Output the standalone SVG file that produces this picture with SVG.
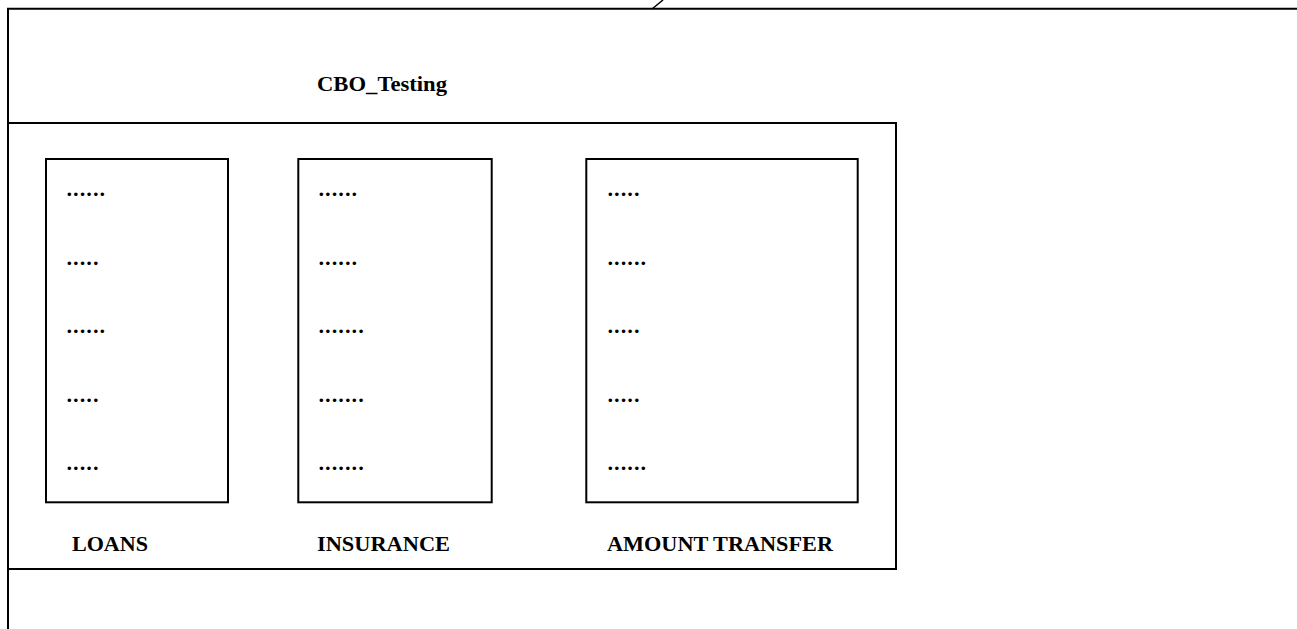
<svg xmlns="http://www.w3.org/2000/svg" width="1297" height="629" viewBox="0 0 1297 629">
<style>
.ln{fill:none;stroke:#000;stroke-width:2}
.lbl{font-family:"Liberation Serif","DejaVu Serif",serif;font-weight:bold;font-size:21px;fill:#000}
.dot{font-family:"DejaVu Serif","Liberation Serif",serif;font-weight:bold;font-size:19px;fill:#000}
</style>
<rect width="1297" height="629" fill="#fff"/>
<g id="frame">
<path class="ln" d="M8,629 V8.7 H1297"/>
<path d="M652,9 L663,0" stroke="#000" stroke-width="1.5" fill="none"/>
</g>
<g id="cbo-testing">
<text class="lbl" x="317" y="91" textLength="130" lengthAdjust="spacingAndGlyphs">CBO_Testing</text>
<rect class="ln" x="8" y="123" width="888" height="446"/>
</g>
<g id="loans">
<rect class="ln" x="46" y="159" width="182" height="343.3"/>
<text class="dot" x="66" y="196">......</text>
<text class="dot" x="66" y="264.5">.....</text>
<text class="dot" x="66" y="333">......</text>
<text class="dot" x="66" y="401.5">.....</text>
<text class="dot" x="66" y="470">.....</text>
<text class="lbl" x="72" y="551" textLength="76" lengthAdjust="spacingAndGlyphs">LOANS</text>
</g>
<g id="insurance">
<rect class="ln" x="298.3" y="159" width="193.4" height="343.3"/>
<text class="dot" x="318" y="196">......</text>
<text class="dot" x="318" y="264.5">......</text>
<text class="dot" x="318" y="333">.......</text>
<text class="dot" x="318" y="401.5">.......</text>
<text class="dot" x="318" y="470">.......</text>
<text class="lbl" x="317" y="551" textLength="133" lengthAdjust="spacingAndGlyphs">INSURANCE</text>
</g>
<g id="amount-transfer">
<rect class="ln" x="586.3" y="159" width="271.4" height="343.3"/>
<text class="dot" x="607" y="196">.....</text>
<text class="dot" x="607" y="264.5">......</text>
<text class="dot" x="607" y="333">.....</text>
<text class="dot" x="607" y="401.5">.....</text>
<text class="dot" x="607" y="470">......</text>
<text class="lbl" x="607" y="551" textLength="226" lengthAdjust="spacingAndGlyphs">AMOUNT TRANSFER</text>
</g>
<g id="connectors"></g>
</svg>
